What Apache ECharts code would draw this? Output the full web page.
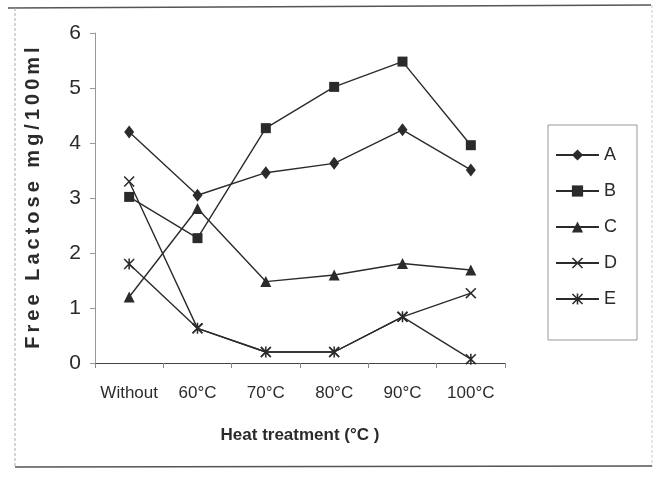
<!DOCTYPE html>
<html>
<head>
<meta charset="utf-8">
<script src="https://cdn.jsdelivr.net/npm/echarts@6/dist/echarts.min.js"></script>
<style>
  html, body { margin: 0; padding: 0; background: #fff; }
  #chart { width: 658px; height: 477px; }
</style>
</head>
<body>
<div id="chart"></div>
<script>
// data
var categories = ['Without', '60°C', '70°C', '80°C', '90°C', '100°C'];
var seriesA = [4.2, 3.05, 3.46, 3.63, 4.24, 3.51];
var seriesB = [3.02, 2.27, 4.27, 5.02, 5.48, 3.96];
var seriesC = [1.2, 2.81, 1.48, 1.6, 1.81, 1.69];
var seriesD = [3.3, 0.63, 0.2, 0.2, 0.84, 1.27];
var seriesE = [1.8, 0.63, 0.2, 0.2, 0.84, 0.07];
var yTicks = [0, 1, 2, 3, 4, 5, 6];
var yTitle = 'Free Lactose mg/100ml';
var xTitle = 'Heat treatment (°C )';

// the y title is printed letter-spaced, so put thin spaces between letters
var spaced = function(text) {
  return text.split('').join('\u2009');
};

// marker shapes
var crossPath = 'path://M0,1 L1,0 L10,9 L9,10 Z M9,0 L10,1 L1,10 L0,9 Z';
var starPath = 'path://M0,1 L1,0 L10,9 L9,10 Z M9,0 L10,1 L1,10 L0,9 Z M4.3,0 L5.7,0 L5.7,10 L4.3,10 Z';

var ink = '#2b2b2b';
var font = 'Liberation Sans, Arial';

function makeSeries(name, data, symbol, size) {
  return {
    name: name,
    type: 'line',
    data: data,
    symbol: symbol,
    symbolSize: size,
    showAllSymbol: true,
    lineStyle: { color: ink, width: 1.4 },
    itemStyle: { color: ink },
    emphasis: { disabled: true },
    animation: false
  };
}

var myChart = echarts.init(document.getElementById('chart'));
var option = {
  backgroundColor: '#fff',
  animation: false,
  grid: { left: 95, top: 33, width: 410, height: 330 },
  graphic: [
    { type: 'line', shape: { x1: 8, y1: 8, x2: 651, y2: 5 }, style: { stroke: '#555', lineWidth: 1.5 } },
    { type: 'line', shape: { x1: 15, y1: 8, x2: 15, y2: 467 }, style: { stroke: '#aaa', lineWidth: 1, lineDash: [3, 2] } },
    { type: 'line', shape: { x1: 652, y1: 5, x2: 652, y2: 467 }, style: { stroke: '#ccc', lineWidth: 1, lineDash: [3, 2] } },
    { type: 'line', shape: { x1: 15, y1: 467, x2: 652, y2: 466 }, style: { stroke: '#555', lineWidth: 1.5 } }
  ],
  legend: {
    orient: 'vertical',
    left: 548,
    top: 125,
    padding: [21, 20, 32, 7],
    itemGap: 18,
    itemWidth: 43,
    itemHeight: 14,
    borderColor: '#999',
    borderWidth: 1,
    textStyle: { fontFamily: font, fontSize: 18, color: ink },
    data: ['A', 'B', 'C', 'D', 'E']
  },
  xAxis: {
    type: 'category',
    data: categories,
    boundaryGap: true,
    name: xTitle,
    nameLocation: 'middle',
    nameGap: 64,
    nameTextStyle: { fontFamily: font, fontWeight: 'bold', fontSize: 17, color: ink },
    axisLine: { lineStyle: { color: '#444', width: 1.2 } },
    axisTick: { show: true, length: 5, lineStyle: { color: '#888' } },
    axisLabel: { interval: 0, margin: 22, fontFamily: font, fontSize: 17, color: ink },
    splitLine: { show: false }
  },
  yAxis: {
    type: 'value',
    min: yTicks[0],
    max: yTicks[yTicks.length - 1],
    interval: 1,
    name: spaced(yTitle),
    nameLocation: 'middle',
    nameGap: 52,
    nameTextStyle: { fontFamily: font, fontWeight: 'bold', fontSize: 20, color: ink },
    axisLine: { show: true, lineStyle: { color: '#999', width: 1 } },
    axisTick: { show: true, length: 5, lineStyle: { color: '#999' } },
    axisLabel: { margin: 14, fontFamily: font, fontSize: 21, color: ink },
    splitLine: { show: false }
  },
  series: [
    makeSeries('A', seriesA, 'diamond', [10, 13]),
    makeSeries('B', seriesB, 'rect', 10),
    makeSeries('C', seriesC, 'triangle', 11),
    makeSeries('D', seriesD, crossPath, 11),
    makeSeries('E', seriesE, starPath, 11)
  ]
};
myChart.setOption(option);
</script>
</body>
</html>
